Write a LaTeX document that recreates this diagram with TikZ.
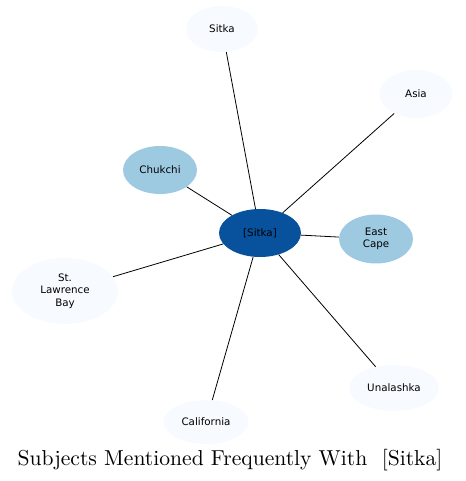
\documentclass[tikz,border=0pt]{standalone}
\usepackage{fontspec}
\newfontfamily\nodefont{DejaVu Sans}
\newfontfamily\titlefont{lmroman10-regular}[Extension=.otf]
\usetikzlibrary{shapes.geometric}
\definecolor{palenode}{HTML}{F7FBFF}
\definecolor{midnode}{HTML}{9ECAE1}
\definecolor{hubnode}{HTML}{08519C}
\tikzset{
  bubble/.style={ellipse, inner sep=0pt, draw=none, align=center,
    font=\nodefont\fontsize{10.3}{12.3}\selectfont, text=black},
  pale/.style={bubble, fill=palenode},
  mid/.style={bubble, fill=midnode},
  hub/.style={bubble, fill=hubnode},
  link/.style={draw=black, line width=0.8pt}
}
\begin{document}
\begin{tikzpicture}[x=1pt,y=1pt]
\useasboundingbox (0,0) rectangle (465,481);
\node[hub, minimum width=82, minimum height=48] (hub) at (260,248) {[Sitka]};
\node[pale, minimum width=72, minimum height=46] (sitka) at (222,452) {Sitka};
\node[pale, minimum width=73, minimum height=48] (asia) at (416,387) {Asia};
\node[mid, minimum width=74, minimum height=48] (chukchi) at (160,311) {Chukchi};
\node[mid, minimum width=74, minimum height=49] (eastcape) at (376,242) {East\\Cape};
\node[pale, minimum width=106, minimum height=66] (stl) at (65,190) {St.\\Lawrence\\Bay};
\node[pale, minimum width=90, minimum height=46] (unal) at (394,93) {Unalashka};
\node[pale, minimum width=85, minimum height=44] (calif) at (206,59) {California};
\node[font=\titlefont\fontsize{21.6}{24}\selectfont, text=black] (title) at (230,21) {Subjects Mentioned Frequently With\ \ [Sitka]};
\draw[link] (hub) -- (sitka);
\draw[link] (hub) -- (asia);
\draw[link] (hub) -- (chukchi);
\draw[link] (hub) -- (eastcape);
\draw[link] (hub) -- (stl);
\draw[link] (hub) -- (unal);
\draw[link] (hub) -- (calif);
\end{tikzpicture}
\end{document}
